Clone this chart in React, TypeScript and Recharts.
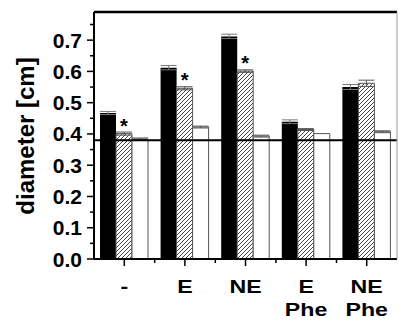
import { BarChart, Bar, XAxis, YAxis, ReferenceLine, ErrorBar, LabelList } from 'recharts'

const categories = ['-', 'E', 'NE', 'E\nPhe', 'NE\nPhe']
const controlValues = [0.467, 0.612, 0.712, 0.439, 0.55]
const controlErr = [0.005, 0.007, 0.007, 0.006, 0.008]
const treatedValues = [0.401, 0.546, 0.601, 0.414, 0.562]
const treatedErr = [0.005, 0.005, 0.004, 0.003, 0.01]
const blankValues = [0.384, 0.422, 0.393, 0.401, 0.407]
const blankErr = [0.003, 0.003, 0.003, 0, 0.003]
const significance = ['*', '*', '*', '', '']
const baseline = 0.38
const yMax = 0.79
const yTicks = [0, 0.05, 0.1, 0.15, 0.2, 0.25, 0.3, 0.35, 0.4, 0.45, 0.5, 0.55, 0.6, 0.65, 0.7, 0.75]

const W = 399
const H = 321
const TOP = 12
const LEFT = 94
const RIGHT = 1
const FONT = '"Liberation Sans", Arial, sans-serif'

const data = categories.map((name, i) => ({
  name,
  control: controlValues[i],
  controlErr: controlErr[i],
  treated: treatedValues[i],
  treatedErr: treatedErr[i],
  blank: blankValues[i],
  blankErr: blankErr[i],
  star: significance[i],
}))

const band = (W - LEFT - RIGHT) / categories.length

function XTick({ x, y, payload, index }: any) {
  const lines = String(payload.value).split('\n')
  return (
    <g>
      <line x1={x} x2={x} y1={y} y2={y + 7} stroke="#000" strokeWidth={1.5} />
      {index < categories.length - 1 && (
        <line x1={x + band / 2} x2={x + band / 2} y1={y} y2={y + 4} stroke="#000" strokeWidth={1.5} />
      )}
      {lines.map((l, i) => (
        <text
          key={i}
          x={0}
          y={0}
          transform={`translate(${x}, ${y + 34 + i * 23}) scale(1.22, 1)`}
          textAnchor="middle"
          style={{ fontFamily: FONT, fontWeight: 'bold', fontSize: 19 }}
          fill="#000"
        >
          {l}
        </text>
      ))}
    </g>
  )
}

function YTick({ x, y, payload }: any) {
  const v = payload.value
  const major = Math.round(v * 100) % 10 === 0
  return (
    <g>
      <line x1={major ? x - 7 : x - 4} x2={x} y1={y} y2={y} stroke="#000" strokeWidth={1.5} />
      {major && (
        <text
          x={x - 12}
          y={y}
          dy="0.36em"
          textAnchor="end"
          style={{ fontFamily: FONT, fontWeight: 'bold', fontSize: 21 }}
          fill="#000"
        >
          {v.toFixed(1)}
        </text>
      )}
    </g>
  )
}

export default function App() {
  return (
    <div style={{ position: 'absolute', left: 0, top: 0, width: W, height: H, background: '#fff' }}>
      <BarChart width={W} height={H} data={data} margin={{ top: TOP, right: RIGHT, left: 0, bottom: 0 }} barCategoryGap={6} barGap={0}>
        <defs>
          <pattern id="hatch" patternUnits="userSpaceOnUse" width={4} height={4}>
            <rect width={4} height={4} fill="#fff" />
            <path d="M-1,1 l2,-2 M0,4 l4,-4 M3,5 l2,-2" stroke="#444" strokeWidth={1} />
          </pattern>
        </defs>
        <XAxis
          dataKey="name"
          height={62}
          interval={0}
          tickSize={0}
          tickMargin={0}
          tickLine={false}
          axisLine={{ stroke: '#000', strokeWidth: 2 }}
          tick={<XTick />}
        />
        <YAxis
          width={LEFT}
          domain={[0, yMax]}
          ticks={yTicks}
          interval={0}
          tickSize={0}
          tickMargin={0}
          tickLine={false}
          axisLine={{ stroke: '#000', strokeWidth: 2 }}
          tick={<YTick />}
          label={{
            content: () => (
              <text
                x={25}
                y={136}
                transform="rotate(-90 25 136)"
                textAnchor="middle"
                dy="0.36em"
                style={{ fontFamily: FONT, fontWeight: 'bold', fontSize: 24 }}
                fill="#000"
              >
                diameter [cm]
              </text>
            ),
          }}
        />
        <YAxis yAxisId="right" orientation="right" width={RIGHT} tick={false} tickLine={false} axisLine={{ stroke: '#999', strokeWidth: 1 }} />
        <Bar dataKey="control" fill="#000" isAnimationActive={false}>
          <ErrorBar dataKey="controlErr" width={8} stroke="#777" strokeWidth={1} direction="y" isAnimationActive={false} />
        </Bar>
        <Bar dataKey="treated" fill="url(#hatch)" stroke="#555" strokeWidth={1} isAnimationActive={false}>
          <ErrorBar dataKey="treatedErr" width={8} stroke="#555" strokeWidth={1} direction="y" isAnimationActive={false} />
          <LabelList dataKey="star" position="top" offset={1} style={{ fontFamily: FONT, fontWeight: 'bold', fontSize: 20 }} fill="#000" />
        </Bar>
        <Bar dataKey="blank" fill="#fff" stroke="#555" strokeWidth={1} isAnimationActive={false}>
          <ErrorBar dataKey="blankErr" width={8} stroke="#555" strokeWidth={1} direction="y" isAnimationActive={false} />
        </Bar>
        <ReferenceLine y={baseline} stroke="#000" strokeWidth={2} />
        <ReferenceLine y={yMax} stroke="#000" strokeWidth={2.5} ifOverflow="visible" />
      </BarChart>
    </div>
  )
}
